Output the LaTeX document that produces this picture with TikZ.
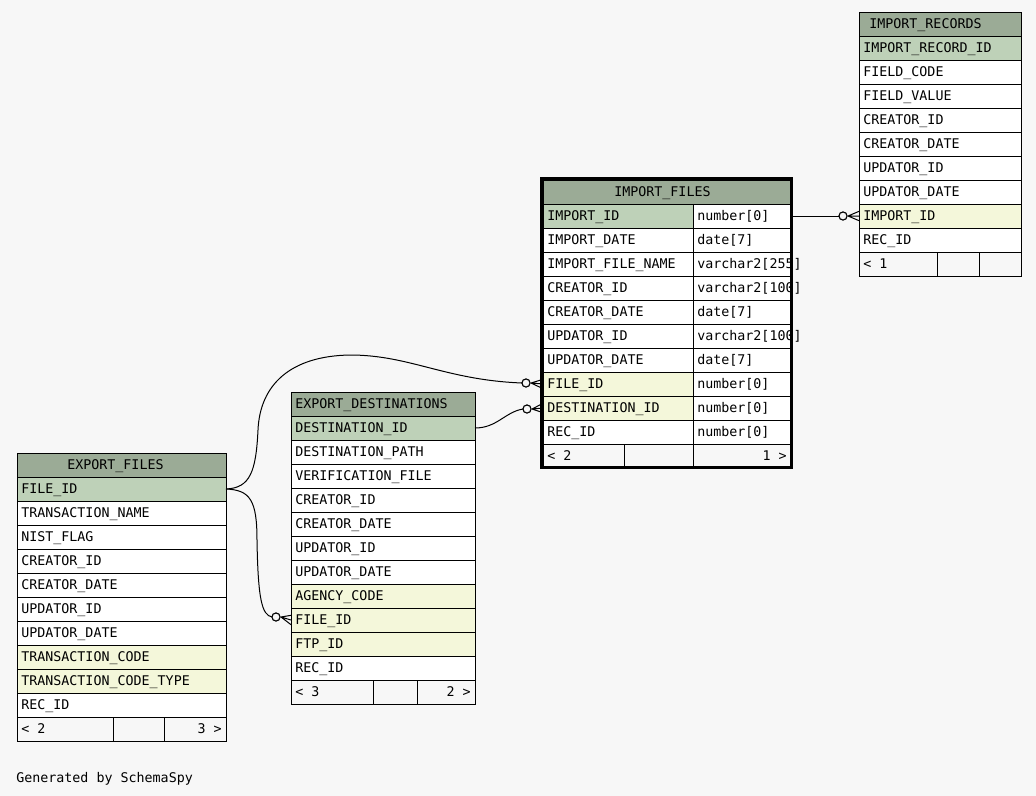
\documentclass[tikz,border=0pt]{standalone}
\usepackage{fontspec}
\setmonofont{DejaVu Sans Mono}
\definecolor{bg}{HTML}{F7F7F7}
\definecolor{hdr}{HTML}{9BAB96}
\definecolor{pk}{HTML}{BED1B8}
\definecolor{fk}{HTML}{F4F7DA}
\tikzset{
  rowbox/.style={draw=black, line width=0.75pt, rectangle, anchor=north west, inner sep=0pt, outer sep=0pt, minimum height=18pt},
  celltext/.style={font=\ttfamily\fontsize{10}{12}\selectfont, inner sep=0pt, anchor=base west},
  celltextr/.style={celltext, anchor=base east},
  conn/.style={draw=black, line width=0.75pt},
  opt/.style={circle, draw=black, line width=0.75pt, fill=bg, minimum size=6pt, inner sep=0pt, outer sep=0pt},
  thickframe/.style={draw=black, line width=2.25pt},
}
\newcommand\erow[6]{%
  \node[rowbox, minimum width=#4pt, fill=#5] (#1) at (#2,#3) {};
  \node[celltext] (#1-t) at (#2+4,#3+16) {#6};
}
\newcommand\crowfoot[2]{%
  \draw[conn] ([xshift=0.75pt]#1.east) -- ([yshift=3.5pt]#2.west)
              ([xshift=0.75pt]#1.east) -- (#2.west)
              ([xshift=0.75pt]#1.east) -- ([yshift=-3.5pt]#2.west);
}
\begin{document}
\begin{tikzpicture}[x=0.75pt,y=-0.75pt]
\fill[bg] (0,0) rectangle (1036,796);
\useasboundingbox (0,0) rectangle (1036,796);

% ---------- IMPORT_RECORDS ----------
\node[rowbox, minimum width=121.5pt, fill=hdr] (ir-h) at (859,12) {};
\node[celltext] (ir-h-t) at (869,28) {IMPORT\_RECORDS};
\foreach \n/\t/\f [count=\i from 1] in {
  irid/IMPORT\_RECORD\_ID/pk, fcode/FIELD\_CODE/white, fval/FIELD\_VALUE/white,
  cid/CREATOR\_ID/white, cdate/CREATOR\_DATE/white, uid/UPDATOR\_ID/white,
  udate/UPDATOR\_DATE/white, impid/IMPORT\_ID/fk, recid/REC\_ID/white}
  {\erow{ir-\n}{859}{12+24*\i}{121.5}{\f}{\t}}
\node[rowbox, minimum width=58.5pt, fill=bg] (ir-f1) at (859,252) {};
\node[rowbox, minimum width=31.5pt, fill=bg] (ir-f2) at (937,252) {};
\node[rowbox, minimum width=31.5pt, fill=bg] (ir-f3) at (979,252) {};
\node[celltext] (ir-f-l) at (863,268) {< 1};

% ---------- IMPORT_FILES ----------
\node[rowbox, minimum width=185.25pt, fill=hdr] (if-h) at (543,180) {};
\node[celltext] (if-h-t) at (614,196) {IMPORT\_FILES};
\foreach \n/\t/\ty/\f [count=\i from 1] in {
  impid/IMPORT\_ID/number[0]/pk, impdate/IMPORT\_DATE/date[7]/white,
  fname/IMPORT\_FILE\_NAME/varchar2[255]/white, cid/CREATOR\_ID/varchar2[100]/white,
  cdate/CREATOR\_DATE/date[7]/white, uid/UPDATOR\_ID/varchar2[100]/white,
  udate/UPDATOR\_DATE/date[7]/white, fileid/FILE\_ID/number[0]/fk,
  destid/DESTINATION\_ID/number[0]/fk, recid/REC\_ID/number[0]/white}
  {\erow{if-\n}{543}{180+24*\i}{112.5}{\f}{\t}
   \erow{if-\n-ty}{693}{180+24*\i}{72.75}{white}{\ty}}
\node[rowbox, minimum width=60.75pt, fill=bg] (if-f1) at (543,444) {};
\node[rowbox, minimum width=51.75pt, fill=bg] (if-f2) at (624,444) {};
\node[rowbox, minimum width=72.75pt, fill=bg] (if-f3) at (693,444) {};
\node[celltext] (if-f-l) at (547,460) {< 2};
\node[celltextr] (if-f-r) at (787,460) {1 >};

% ---------- EXPORT_DESTINATIONS ----------
\node[rowbox, minimum width=138pt, fill=hdr] (ed-h) at (291,392) {};
\node[celltext] (ed-h-t) at (295,408) {EXPORT\_DESTINATIONS};
\foreach \n/\t/\f [count=\i from 1] in {
  destid/DESTINATION\_ID/pk, dpath/DESTINATION\_PATH/white, vfile/VERIFICATION\_FILE/white,
  cid/CREATOR\_ID/white, cdate/CREATOR\_DATE/white, uid/UPDATOR\_ID/white,
  udate/UPDATOR\_DATE/white, agency/AGENCY\_CODE/fk, fileid/FILE\_ID/fk,
  ftpid/FTP\_ID/fk, recid/REC\_ID/white}
  {\erow{ed-\n}{291}{392+24*\i}{138}{\f}{\t}}
\node[rowbox, minimum width=61.5pt, fill=bg] (ed-f1) at (291,680) {};
\node[rowbox, minimum width=33pt, fill=bg] (ed-f2) at (373,680) {};
\node[rowbox, minimum width=43.5pt, fill=bg] (ed-f3) at (417,680) {};
\node[celltext] (ed-f-l) at (295,696) {< 3};
\node[celltextr] (ed-f-r) at (471,696) {2 >};

% ---------- EXPORT_FILES ----------
\node[rowbox, minimum width=156.75pt, fill=hdr] (ef-h) at (17,453) {};
\node[celltext] (ef-h-t) at (67,469) {EXPORT\_FILES};
\foreach \n/\t/\f [count=\i from 1] in {
  fileid/FILE\_ID/pk, tname/TRANSACTION\_NAME/white, nist/NIST\_FLAG/white,
  cid/CREATOR\_ID/white, cdate/CREATOR\_DATE/white, uid/UPDATOR\_ID/white,
  udate/UPDATOR\_DATE/white, tcode/TRANSACTION\_CODE/fk,
  tctype/TRANSACTION\_CODE\_TYPE/fk, recid/REC\_ID/white}
  {\erow{ef-\n}{17}{453+24*\i}{156.75}{\f}{\t}}
\node[rowbox, minimum width=72pt, fill=bg] (ef-f1) at (17,717) {};
\node[rowbox, minimum width=38.25pt, fill=bg] (ef-f2) at (113,717) {};
\node[rowbox, minimum width=46.5pt, fill=bg] (ef-f3) at (164,717) {};
\node[celltext] (ef-f-l) at (21,733) {< 2};
\node[celltextr] (ef-f-r) at (222,733) {3 >};

% ---------- connectors ----------
\node[opt] (o1) at (843,216) {};
\node[opt] (o2) at (526,383) {};
\node[opt] (o3) at (527,409) {};
\node[opt] (o4) at (276,617) {};

\draw[conn] (if-impid-ty.east) -- (o1.west);
\draw[conn] (ef-fileid.east) .. controls (250,488) and (256,472) .. (258,430)
            .. controls (260,385) and (290,356) .. (350,355)
            .. controls (410,355) and (445,380) .. (o2.west);
\draw[conn] (ed-destid.east) .. controls (497,428) and (505,412) .. (o3.west);
\draw[conn] (ef-fileid.east) .. controls (250,490) and (257,500) .. (257,540)
            .. controls (258,600) and (262,615) .. (o4.west);

\node[opt] at (o1) {};
\node[opt] at (o2) {};
\node[opt] at (o3) {};
\node[opt] at (o4) {};

\crowfoot{o1}{ir-impid}
\crowfoot{o2}{if-fileid}
\crowfoot{o3}{if-destid}
\crowfoot{o4}{ed-fileid}

% thick frame of the focus table
\draw[thickframe] (541.5,178.5) rectangle (791.5,467.5);

\node[celltext] (gen) at (16,782) {Generated by SchemaSpy};
\end{tikzpicture}
\end{document}
